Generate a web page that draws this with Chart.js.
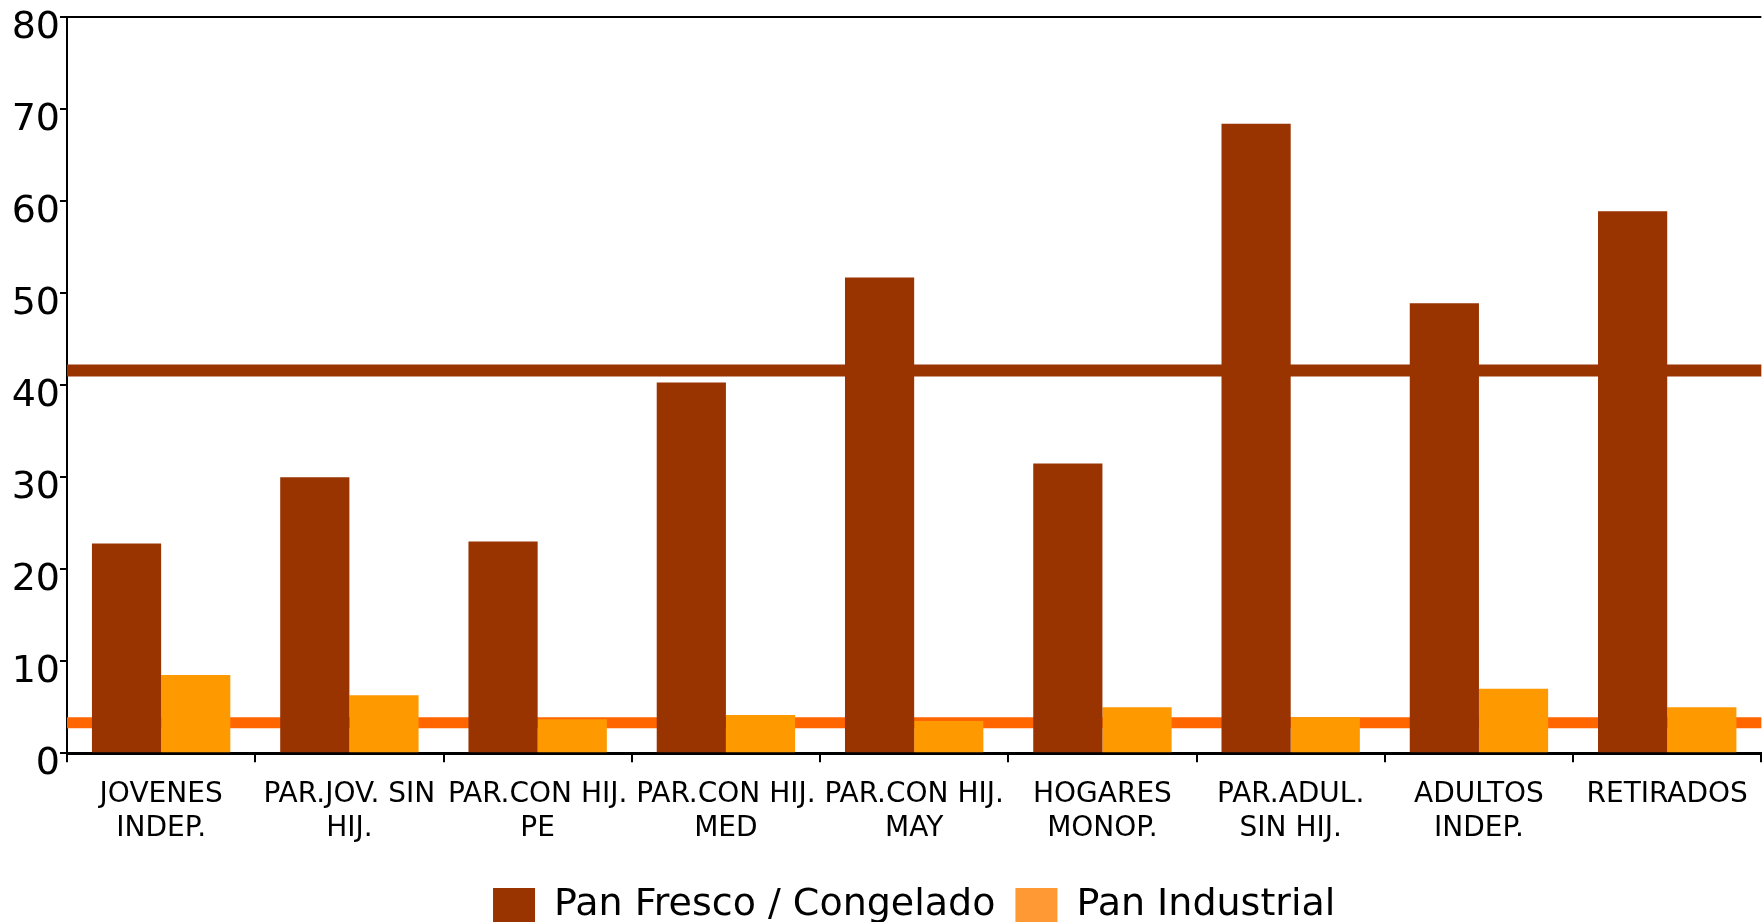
<!DOCTYPE html>
<html>
<head>
<meta charset="utf-8">
<script src="https://cdn.jsdelivr.net/npm/chart.js@4"></script>
<style>
  body { margin: 0; background: #fff; }
  #wrap { width: 1764px; height: 922px; }
</style>
</head>
<body>
<div id="wrap"><canvas id="chart"></canvas></div>
<script>
// Categorías (tipos de hogar)
const categories = [
    ["JOVENES", "INDEP."],
    ["PAR.JOV. SIN", "HIJ."],
    ["PAR.CON HIJ.", "PE"],
    ["PAR.CON HIJ.", "MED"],
    ["PAR.CON HIJ.", "MAY"],
    ["HOGARES", "MONOP."],
    ["PAR.ADUL.", "SIN HIJ."],
    ["ADULTOS", "INDEP."],
    ["RETIRADOS"]
];

// Valores
const panFresco = [22.8, 30.0, 23.0, 40.3, 51.7, 31.5, 68.4, 48.9, 58.9];
const panIndustrial = [8.5, 6.3, 3.7, 4.15, 3.5, 5.0, 3.9, 7.0, 5.0];

// Líneas de referencia (media)
const mediaFresco = 41.6;
const mediaIndustrial = 3.3;

const yTicks = [0, 10, 20, 30, 40, 50, 60, 70, 80];

const font = "DejaVu Sans";

// Dibuja las líneas de media detrás de las barras, usando la escala Y
const mediaLines = {
    id: "mediaLines",
    beforeDatasetsDraw(chart) {
        const { ctx, chartArea, scales } = chart;
        const lines = [
            { value: mediaFresco, color: "#993300", width: 12 },
            { value: mediaIndustrial, color: "#FF6600", width: 11 },
        ];
        ctx.save();
        lines.forEach(l => {
            const y = scales.y.getPixelForValue(l.value);
            ctx.strokeStyle = l.color;
            ctx.lineWidth = l.width;
            ctx.beginPath();
            ctx.moveTo(chartArea.left, y);
            ctx.lineTo(chartArea.right, y);
            ctx.stroke();
        });
        ctx.restore();
    },
};

const ctx = document.getElementById("chart").getContext("2d");

new Chart(ctx, {
    type: "bar",
    data: {
        labels: categories,
        datasets: [
            {
                label: "Pan Fresco / Congelado",
                data: panFresco,
                backgroundColor: "#993300",
            },
            {
                label: "Pan Industrial",
                data: panIndustrial,
                backgroundColor: "#FF9900",
            },
        ],
    },
    plugins: [mediaLines],
    options: {
        responsive: true,
        maintainAspectRatio: false,
        animation: false,
        datasets: {
            bar: { barPercentage: 1, categoryPercentage: 0.735 },
        },
        layout: { padding: { top: 0, right: 2, left: 12, bottom: -12 } },
        plugins: {
            tooltip: { enabled: false },
            legend: {
                position: "bottom",
                fullSize: false,
                labels: {
                    color: "black",
                    boxWidth: 42,
                    boxHeight: 34,
                    padding: 20,
                    font: { family: font, size: 38 },
                    generateLabels: (chart) => {
                        const items = Chart.defaults.plugins.legend.labels.generateLabels(chart);
                        items.forEach(it => {
                            if (it.datasetIndex === 1) it.fillStyle = "#FF9933";
                            it.strokeStyle = "transparent";
                            it.lineWidth = 0;
                        });
                        return items;
                    },
                },
            },
        },
        scales: {
            x: {
                afterFit: (axis) => { axis.height += 4; },
                grid: {
                    offset: true,
                    drawOnChartArea: false,
                    color: "black",
                    lineWidth: 2,
                    tickLength: 9,
                },
                border: { color: "black", width: 3 },
                ticks: {
                    color: "black",
                    maxRotation: 0,
                    autoSkip: false,
                    padding: 16,
                    font: { family: font, size: 28, lineHeight: 1.21 },
                },
            },
            y: {
                min: 0,
                max: 80,
                afterBuildTicks: (axis) => {
                    axis.ticks = yTicks.map(v => ({ value: v }));
                },
                afterFit: (axis) => { axis.width = 55; },
                grid: {
                    color: (c) => (c.tick && c.tick.value === 80 ? "black" : "transparent"),
                    tickColor: "black",
                    lineWidth: 2,
                    tickLength: 7,
                },
                border: { color: "black", width: 2 },
                ticks: {
                    color: "black",
                    padding: 0,
                    labelOffset: 11,
                    font: { family: font, size: 38, lineHeight: 0.9 },
                },
            },
        },
    },
});
</script>
</body>
</html>
